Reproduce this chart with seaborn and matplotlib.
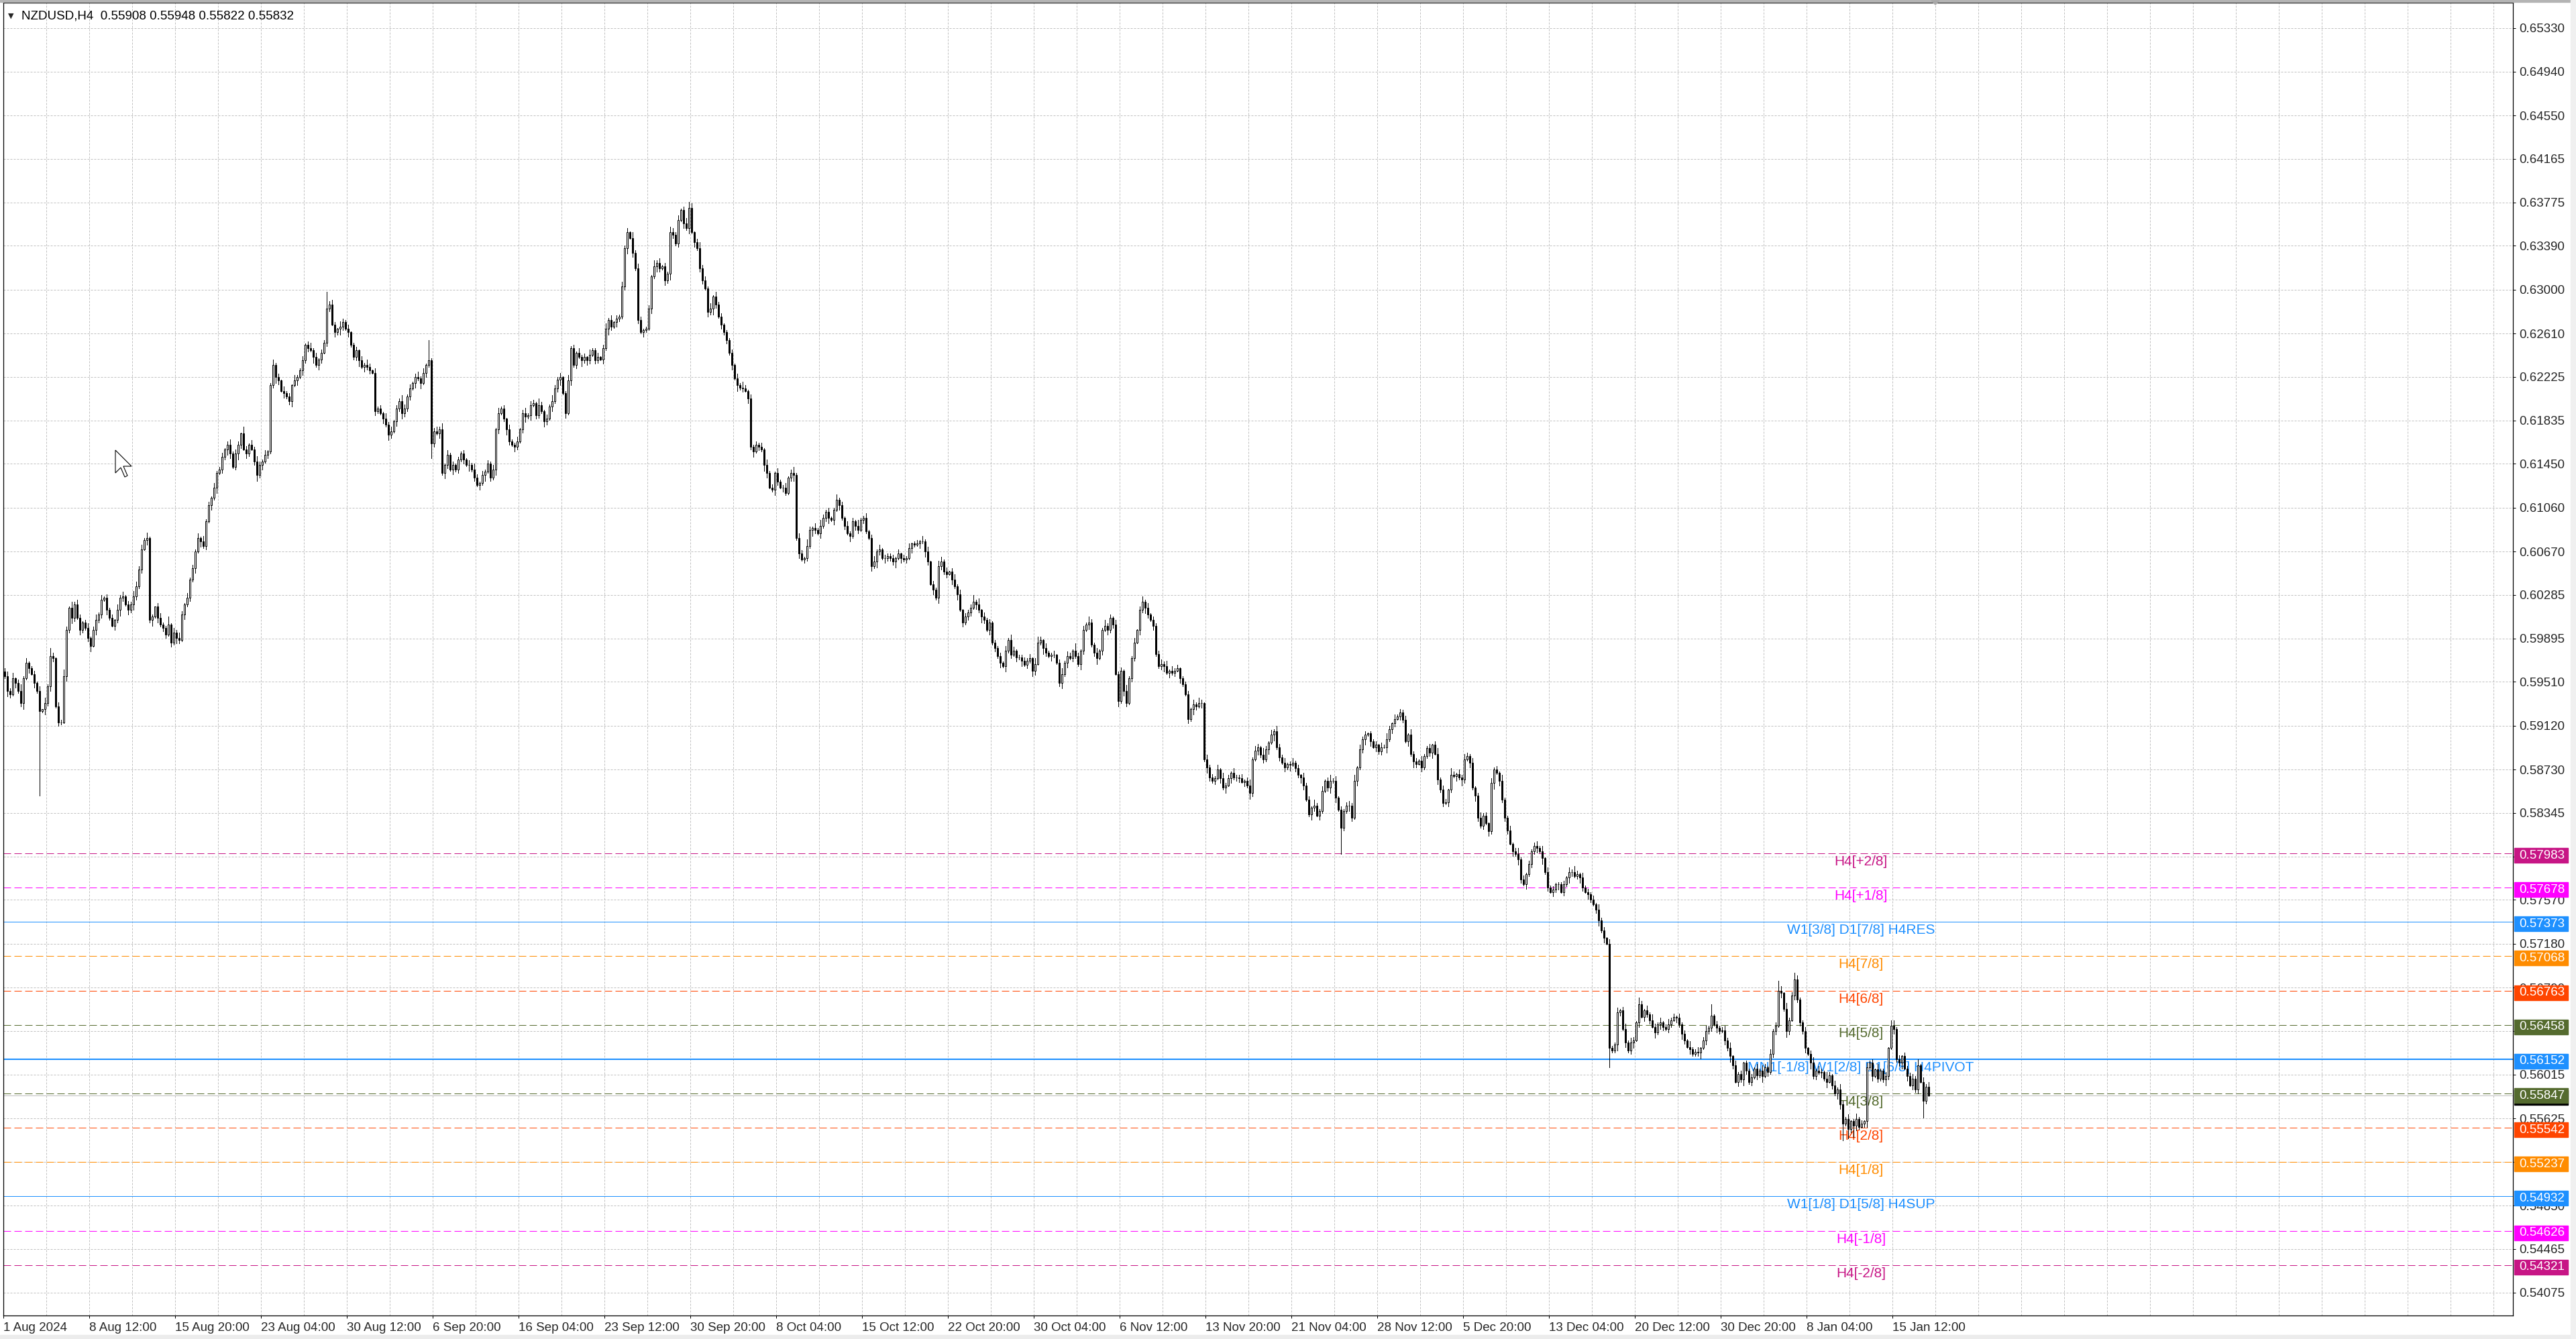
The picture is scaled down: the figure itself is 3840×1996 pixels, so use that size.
import matplotlib
matplotlib.use("Agg")
import matplotlib.pyplot as plt
import matplotlib.transforms as mtransforms
from matplotlib.patches import Rectangle, Polygon
import numpy as np
import pandas as pd
import seaborn as sns

# NZDUSD H4 closes, 1 Aug 2024 -> 16 Jan 2025, in pips (x 0.0001)
closes = [
    5956, 5943, 5940, 5954, 5950, 5943, 5932, 5954, 5968, 5963,
    5958, 5950, 5943, 5925, 5927, 5932, 5947, 5974, 5972, 5929,
    5915, 5915, 5956, 5997, 6017, 6008, 6020, 6008, 5997, 6004,
    5999, 5990, 5983, 5997, 6006, 6011, 6024, 6026, 6015, 6008,
    6001, 6006, 6015, 6026, 6027, 6020, 6015, 6020, 6027, 6036,
    6051, 6069, 6077, 6079, 6006, 6009, 6018, 6008, 6002, 5999,
    5993, 6002, 5986, 5995, 5990, 5988, 6011, 6020, 6026, 6042,
    6052, 6067, 6079, 6076, 6072, 6094, 6108, 6115, 6124, 6137,
    6140, 6151, 6158, 6162, 6154, 6142, 6154, 6162, 6172, 6158,
    6154, 6162, 6158, 6147, 6135, 6144, 6147, 6153, 6156, 6215,
    6233, 6222, 6219, 6210, 6208, 6205, 6201, 6215, 6219, 6222,
    6228, 6237, 6251, 6248, 6246, 6240, 6233, 6238, 6244, 6253,
    6283, 6287, 6269, 6262, 6265, 6267, 6271, 6265, 6262, 6251,
    6240, 6246, 6237, 6231, 6233, 6231, 6228, 6226, 6192, 6194,
    6190, 6185, 6180, 6171, 6174, 6183, 6194, 6201, 6190, 6194,
    6205, 6212, 6217, 6222, 6221, 6217, 6226, 6233, 6237, 6163,
    6174, 6172, 6176, 6137, 6144, 6153, 6140, 6144, 6140, 6149,
    6154, 6149, 6144, 6144, 6140, 6133, 6126, 6128, 6135, 6138,
    6145, 6133, 6140, 6176, 6190, 6194, 6185, 6176, 6165, 6162,
    6160, 6165, 6176, 6190, 6187, 6188, 6197, 6199, 6188, 6197,
    6192, 6183, 6185, 6196, 6201, 6212, 6220, 6222, 6208, 6190,
    6219, 6248, 6233, 6244, 6240, 6237, 6240, 6237, 6242, 6246,
    6237, 6240, 6238, 6248, 6265, 6273, 6267, 6271, 6274, 6276,
    6303, 6337, 6351, 6346, 6333, 6319, 6273, 6262, 6264, 6265,
    6283, 6312, 6321, 6324, 6319, 6321, 6308, 6314, 6351, 6349,
    6341, 6362, 6371, 6359, 6355, 6373, 6351, 6342, 6337, 6319,
    6308, 6301, 6280, 6283, 6294, 6287, 6276, 6269, 6262, 6255,
    6244, 6233, 6221, 6215, 6213, 6212, 6210, 6203, 6160, 6156,
    6162, 6160, 6158, 6144, 6137, 6124, 6122, 6137, 6129, 6124,
    6124, 6119, 6133, 6137, 6135, 6079, 6065, 6060, 6061, 6072,
    6086, 6088, 6086, 6083, 6090, 6097, 6102, 6097, 6095, 6104,
    6113, 6108, 6097, 6090, 6083, 6081, 6094, 6090, 6086, 6095,
    6097, 6085, 6079, 6054, 6058, 6067, 6069, 6061, 6061, 6063,
    6061, 6058, 6061, 6065, 6061, 6060, 6061, 6070, 6074, 6073,
    6074, 6076, 6076, 6067, 6058, 6038, 6033, 6026, 6054, 6058,
    6049, 6047, 6049, 6042, 6036, 6029, 6015, 6004, 6009, 6013,
    6017, 6022, 6020, 6015, 6009, 6006, 5997, 6004, 5986, 5981,
    5974, 5968, 5965, 5979, 5988, 5975, 5979, 5973, 5973, 5970,
    5966, 5970, 5972, 5961, 5967, 5986, 5988, 5981, 5977, 5974,
    5975, 5975, 5968, 5950, 5958, 5968, 5974, 5972, 5979, 5974,
    5967, 5979, 5997, 6002, 6004, 5984, 5977, 5972, 5979, 5997,
    6001, 5997, 6008, 6002, 5958, 5934, 5961, 5943, 5932, 5954,
    5972, 5986, 5997, 6015, 6022, 6017, 6011, 6006, 6001, 5976,
    5965, 5967, 5965, 5959, 5961, 5959, 5961, 5963, 5954, 5949,
    5940, 5918, 5927, 5931, 5929, 5932, 5932, 5882, 5875, 5866,
    5863, 5865, 5873, 5865, 5857, 5859, 5865, 5870, 5866, 5866,
    5865, 5862, 5863, 5859, 5852, 5882, 5890, 5893, 5886, 5882,
    5891, 5897, 5904, 5907, 5893, 5884, 5879, 5875, 5878, 5877,
    5879, 5874, 5868, 5866, 5859, 5846, 5833, 5839, 5841, 5832,
    5836, 5854, 5863, 5857, 5863, 5863, 5848, 5837, 5821, 5836,
    5841, 5841, 5830, 5863, 5875, 5891, 5900, 5904, 5905, 5898,
    5893, 5895, 5889, 5893, 5893, 5900, 5909, 5914, 5918, 5920,
    5924, 5917, 5898, 5904, 5887, 5880, 5878, 5881, 5875, 5885,
    5892, 5888, 5895, 5887, 5864, 5855, 5843, 5844, 5855, 5868,
    5867, 5869, 5866, 5864, 5882, 5885, 5879, 5857, 5850, 5830,
    5823, 5832, 5825, 5818, 5861, 5873, 5870, 5863, 5846, 5830,
    5819, 5807, 5800, 5798, 5793, 5775, 5771, 5780, 5789, 5800,
    5805, 5803, 5800, 5794, 5782, 5768, 5764, 5766, 5771, 5771,
    5764, 5771, 5777, 5782, 5782, 5778, 5780, 5777, 5768, 5764,
    5762, 5757, 5753, 5748, 5739, 5730, 5723, 5718, 5625, 5623,
    5628, 5657, 5659, 5642, 5630, 5623, 5630, 5632, 5648, 5664,
    5653, 5659, 5655, 5650, 5644, 5639, 5646, 5648, 5644, 5642,
    5646, 5650, 5653, 5652, 5646, 5638, 5632, 5626, 5624, 5620,
    5622, 5621, 5625, 5632, 5640, 5643, 5654, 5646, 5643, 5640,
    5641, 5632, 5625, 5618, 5610, 5595, 5602, 5597, 5612, 5605,
    5595, 5599, 5607, 5601, 5605, 5600, 5608, 5604, 5620, 5640,
    5645, 5676, 5674, 5660, 5640, 5650, 5672, 5686, 5668, 5648,
    5640, 5625, 5620, 5612, 5600, 5605, 5603, 5604, 5598, 5595,
    5601, 5592, 5585, 5588, 5575, 5558, 5562, 5553, 5560, 5556,
    5562, 5555, 5558, 5560, 5608, 5612, 5600, 5606, 5598, 5605,
    5597, 5600, 5625, 5645, 5642, 5615, 5612, 5618, 5607, 5600,
    5592, 5598, 5588, 5610, 5595, 5578, 5590.8, 5583.2,
]
first_open = 5960

# wick lengths in pips, one digit per bar
upper_wicks = """
3425136241 2314052731 4263152431 2413524132 3152413254 3425120342 2714253142 3241523142 2413524316
3142532412 5231423152 2413524132 6342153241 2314253142 3152413254 2413524132 3425142312 2314253142
3241523142 2413524316 3142532412 5231423152 2413524132 4231524312 3152413254 2413524135 3425142312
2314253142 3241523142 2413524316 3142532412 5231423152 2413524132 2314132412 3152413254 2413524132
3625142312 2314253122 3241553142 2413524316 3142532412 5231423152 2413524132 3425142312 2314253142
3241523142 2413524316 3142532412 4231423152 2413524132 3425142312 2314253142 3241523142 2413524316
3142532412 5231423152 2413524132 3425142312 2314253142 3241523142 2413524316 3142532412 5231423152
2413524132 3425142312 2314253142 3241523142 2413524316 3142532412 5231423152 2413524132 34251424
"""
lower_wicks = """
2531423514 1423152431 3214253142 2351423142 1425314253 2314251423 3142531423 2415231425 1325412531
4213524132 2531423514 1423152431 3214253142 2351423142 1425314253 2314251423 3142531423 2415231425
1325412531 4213524132 2531423514 1423152431 3214253142 2351423142 1425314253 2314251423 3142531423
2415231425 1325412531 4213524132 2531423514 1423152431 3214253142 2351423142 1425314253 2314251423
3142531423 2415231425 1325412531 4213524132 2531423514 1423152431 3214253142 2351423142 1425314253
2314251423 3142531423 2415231425 1325412531 4213524132 2531423514 1423152431 3214253142 2351423142
1425314253 2314251423 3142531423 2415231425 1325412531 4213524132 2531423514 1423152431 3214253142
2351423142 1425314253 2314251423 3142531423 2415231425 1325412531 4213524132 2531423514 14231521
"""

# long wicks that stand out on the chart (bar, price in pips)
spike_highs = [(53, 6084), (120, 6298), (158, 6255), (232, 6355), (255, 6378),
               (636, 5664), (661, 5685), (667, 5692), (703, 5650), (717, 5594.8)]
spike_lows = [(13, 5850), (159, 6150), (498, 5798), (598, 5608), (685, 5543),
              (687, 5545), (689, 5546), (715, 5563), (717, 5582.2)]

time_labels = ["1 Aug 2024", "8 Aug 12:00", "15 Aug 20:00", "23 Aug 04:00", "30 Aug 12:00",
               "6 Sep 20:00", "16 Sep 04:00", "23 Sep 12:00", "30 Sep 20:00", "8 Oct 04:00",
               "15 Oct 12:00", "22 Oct 20:00", "30 Oct 04:00", "6 Nov 12:00", "13 Nov 20:00",
               "21 Nov 04:00", "28 Nov 12:00", "5 Dec 20:00", "13 Dec 04:00", "20 Dec 12:00",
               "30 Dec 20:00", "8 Jan 04:00", "15 Jan 12:00"]

price_ticks = [0.65330, 0.64940, 0.64550, 0.64165, 0.63775, 0.63390, 0.63000, 0.62610,
               0.62225, 0.61835, 0.61450, 0.61060, 0.60670, 0.60285, 0.59895, 0.59510,
               0.59120, 0.58730, 0.58345, 0.57955, 0.57570, 0.57180, 0.56790, 0.56405,
               0.56015, 0.55625, 0.55240, 0.54850, 0.54465, 0.54075]
# tick labels that sit fully behind a level box in the reference
hidden_ticks = [0.57955, 0.56405]

level_prices = [0.57983, 0.57678, 0.57373, 0.57068, 0.56763, 0.56458, 0.56152,
                0.55847, 0.55542, 0.55237, 0.54932, 0.54626, 0.54321]
level_names = ["H4[+2/8]", "H4[+1/8]", "W1[3/8] D1[7/8] H4RES", "H4[7/8]", "H4[6/8]",
               "H4[5/8]", "MN1[-1/8] W1[2/8] D1[6/8] H4PIVOT", "H4[3/8]", "H4[2/8]",
               "H4[1/8]", "W1[1/8] D1[5/8] H4SUP", "H4[-1/8]", "H4[-2/8]"]
bid_price = 0.55832
header = "NZDUSD,H4  0.55908 0.55948 0.55822 0.55832"

# styles
level_colors = ["#C71585", "#FF00FF", "#1E90FF", "#FF8C00", "#FF4500", "#556B2F", "#1E90FF",
                "#556B2F", "#FF4500", "#FF8C00", "#1E90FF", "#FF00FF", "#C71585"]
level_dashed = [True, True, False, True, True, True, False, True, True, True, False, True, True]
level_lw = [0.72, 0.72, 0.72, 0.72, 0.72, 0.72, 1.5, 0.72, 0.72, 0.72, 0.72, 0.72, 0.72]

# --- build OHLC ---
up = [int(ch) for ch in "".join(upper_wicks.split())]
dn = [int(ch) for ch in "".join(lower_wicks.split())]
assert len(closes) == len(up) == len(dn), (len(closes), len(up), len(dn))

df = pd.DataFrame({"close": closes, "up": up, "dn": dn}, dtype=float)
df["open"] = df["close"].shift(1).fillna(first_open)
df["high"] = df[["open", "close"]].max(axis=1) + df["up"]
df["low"] = df[["open", "close"]].min(axis=1) - df["dn"]
for b, v in spike_highs:
    df.loc[b, "high"] = v
for b, v in spike_lows:
    df.loc[b, "low"] = v
for col in ["open", "high", "low", "close"]:
    df[col] = df[col] / 10000
df["bar"] = np.arange(len(df))

# --- figure ---
W, H = 3840, 1996
sns.set_theme(style="white")
plt.rcParams["font.family"] = ["Liberation Sans", "DejaVu Sans"]

fig = plt.figure(figsize=(W / 100, H / 100), dpi=100, facecolor="white")
ax = fig.add_axes([5 / W, (H - 1961) / H, 3741 / W, 1957 / H])
ax.set_facecolor("white")

y0, y1 = 0.53871, 0.65554
ax.set_xlim(-0.5, 934.75)
ax.set_ylim(y0, y1)
px = (y1 - y0) / 1957  # price per pixel

# candles
bull = df[df["close"] >= df["open"]]
bear = df[df["close"] < df["open"]]
ax.vlines(df["bar"], df["low"], df["high"], color="black", lw=0.72, zorder=3, antialiased=False)
ax.bar(bull["bar"], bull["close"] - bull["open"], bottom=bull["open"], width=0.58,
       color="white", edgecolor="black", linewidth=0.72, zorder=4)
ax.bar(bear["bar"], bear["open"] - bear["close"], bottom=bear["close"], width=0.58,
       color="black", edgecolor="black", linewidth=0.72, zorder=4)

# Murrey levels
label_bar = 691.75
for p, name, c, dashed, lw in zip(level_prices, level_names, level_colors, level_dashed, level_lw):
    ax.axhline(p, color=c, lw=lw, ls=(0, (11, 5)) if dashed else "-", zorder=2)
    ax.annotate(name, (label_bar, p), xytext=(0, -3), textcoords="offset pixels",
                ha="center", va="top", color=c, fontsize=15, zorder=2.8)
ax.axhline(bid_price, color="#C0C0C0", lw=0.72, zorder=2.5)

# axes ticks / grid
major_x = [32 * k - 0.5 for k in range(len(time_labels))]
minor_x = [16 * k - 0.5 for k in range(1, 59) if not (k % 2 == 0 and k // 2 < len(time_labels))]
ax.set_xticks(major_x)
ax.set_xticks(minor_x, minor=True)
ax.set_xticklabels(time_labels, ha="left")
ax.tick_params(axis="x", which="major", length=3, width=0.72, color="black", pad=4,
               labelsize=13.5, direction="out", bottom=True)
ax.tick_params(axis="x", which="minor", length=0)

ax.set_yticks(price_ticks)
ax.set_yticklabels(["" if v in hidden_ticks else f"{v:.5f}" for v in price_ticks])
ax.yaxis.tick_right()
ax.tick_params(axis="y", which="major", length=3, width=0.72, color="black", pad=4,
               labelsize=13.5, direction="out", right=True, left=False)

ax.set_axisbelow(True)
ax.grid(True, which="both", color="#C0C0C0", lw=0.72, ls=(0, (3, 2)))
for s in ax.spines.values():
    s.set_color("black")
    s.set_linewidth(0.9)

# price boxes on the right scale (drawn a few pixels under the level)
trans = mtransforms.blended_transform_factory(fig.transFigure, ax.transData)
box_h = 22 * px
shift = 3 * px
ax.add_artist(Rectangle((3748 / W, bid_price - shift - box_h / 2), 80 / W, box_h,
                        transform=trans, color="black", clip_on=False, zorder=5))
for p, c in zip(level_prices, level_colors):
    ax.add_artist(Rectangle((3748 / W, p - shift - box_h / 2), 80 / W, box_h, transform=trans,
                            color=c, clip_on=False, zorder=5.5))
    ax.text(3755 / W, p - shift, f"{p:.5f}", transform=trans, color="white", fontsize=13.5,
            ha="left", va="center", clip_on=False, zorder=6)

# header
fig.text(12 / W, 1 - 24 / H, "\u25BC", fontsize=8, va="center", ha="left",
         family=["DejaVu Sans"])
fig.text(32 / W, 1 - 24 / H, header, fontsize=13.5, va="center", ha="left", color="black")

# window frame bands
fig.add_artist(Rectangle((0, 1 - 3 / H), 1, 3 / H, transform=fig.transFigure, color="#B4B4B4"))
fig.add_artist(Rectangle((0, 0), 1, 6 / H, transform=fig.transFigure, color="#ECECEC"))
fig.add_artist(Rectangle((3832 / W, 0), 8 / W, 1, transform=fig.transFigure, color="#F0F0F0"))

# chart shift marker at the top
fig.add_artist(Polygon([(2879 / W, 1 - 1 / H), (2891 / W, 1 - 1 / H), (2885 / W, 1 - 7 / H)],
                       closed=True, transform=fig.transFigure, color="#A8A8A8"))

# mouse pointer
tip_x, tip_y = 172, 671
shape = [(0, 0), (0, 34), (8, 26), (14, 40), (18, 38), (12, 24), (24, 24)]
fig.add_artist(Polygon([((tip_x + dx) / W, 1 - (tip_y + dy) / H) for dx, dy in shape],
                       closed=True, transform=fig.transFigure, facecolor="white",
                       edgecolor="black", linewidth=0.8))

fig.savefig("out.png", dpi=100, facecolor="white")
